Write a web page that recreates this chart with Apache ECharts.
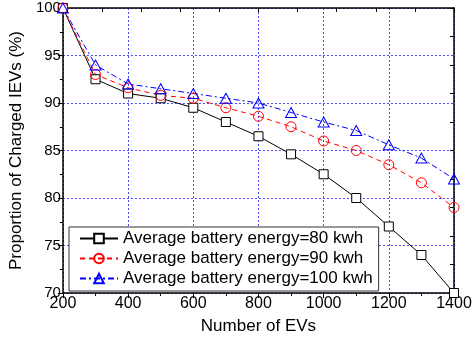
<!DOCTYPE html>
<html><head><meta charset="utf-8">
<script src="https://cdn.jsdelivr.net/npm/echarts@6/dist/echarts.min.js"></script>
<style>html,body{margin:0;padding:0;background:#fff}#c{width:476px;height:340px}</style>
</head><body><div id="c"></div>
<script>
var evCounts = [200, 300, 400, 500, 600, 700, 800, 900, 1000, 1100, 1200, 1300, 1400];
var energy80 = [100, 92.5, 91.0, 90.5, 89.5, 88.0, 86.5, 84.6, 82.5, 80.0, 77.0, 74.0, 70.0];
var energy90 = [100, 93.0, 91.6, 90.8, 90.5, 89.5, 88.6, 87.5, 86.0, 85.0, 83.5, 81.6, 79.0];
var energy100 = [100, 94.0, 92.0, 91.5, 91.0, 90.5, 90.0, 89.0, 88.0, 87.1, 85.6, 84.2, 82.0];
var seriesNames = ['Average battery energy=80 kwh', 'Average battery energy=90 kwh', 'Average battery energy=100 kwh'];

function pairs(ys){ return evCounts.map(function(x,i){ return [x, ys[i]]; }); }
var font = 'Liberation Sans, Arial, sans-serif';
var gridLine = {show:true, lineStyle:{color:'#4a4aff', type:[2,2], width:1}};
var chart = echarts.init(document.getElementById('c'), null, {renderer:'canvas'});
chart.setOption({
  animation:false,
  backgroundColor:'#fff',
  grid:{left:62, right:22, top:8, bottom:44, show:false},
  legend:{
    left:69, top:227, orient:'vertical', itemGap:3, itemWidth:38, itemHeight:12,
    padding:[3,6,4,10], borderColor:'#333', borderWidth:1, backgroundColor:'#fff',
    textStyle:{fontFamily:font, fontSize:17, color:'#000'},
    data:seriesNames.map(function(n){return {name:n};})
  },
  xAxis:[{
    type:'value', min:200, max:1400, interval:200, position:'bottom',
    name:'Number of EVs', nameLocation:'middle', nameGap:25,
    nameTextStyle:{fontFamily:font, fontSize:17, color:'#000'},
    axisLine:{show:true, onZero:false, lineStyle:{color:'#000', width:1.5}},
    axisTick:{show:true, inside:false, length:5, lineStyle:{color:'#000'}},
    minorTick:{show:true, splitNumber:2, length:3, lineStyle:{color:'#000'}},
    axisLabel:{fontFamily:font, fontSize:16, color:'#000', margin:3, formatter:function(v){return String(v);}},
    splitLine:gridLine
  },{
    type:'value', min:0, max:1200, interval:120, position:'top',
    axisLine:{show:true, onZero:false, lineStyle:{color:'#000', width:1.5}},
    axisTick:{show:true, inside:true, length:4, lineStyle:{color:'#000'}},
    axisLabel:{show:false}, splitLine:{show:false}
  }],
  yAxis:[{
    type:'value', min:70, max:100, interval:5, position:'left',
    name:'Proportion of Charged IEVs (%)', nameLocation:'middle', nameGap:35,
    nameTextStyle:{fontFamily:font, fontSize:17, color:'#000'},
    axisLine:{show:true, onZero:false, lineStyle:{color:'#000', width:1.5}},
    axisTick:{show:true, inside:false, length:5, lineStyle:{color:'#000'}},
    minorTick:{show:true, splitNumber:2, length:3, lineStyle:{color:'#000'}},
    axisLabel:{fontFamily:font, fontSize:15, color:'#000', margin:2},
    splitLine:gridLine
  },{
    type:'value', min:70, max:100, interval:3, position:'right',
    axisLine:{show:true, onZero:false, lineStyle:{color:'#000', width:1.5}},
    axisTick:{show:true, inside:true, length:4, lineStyle:{color:'#000'}},
    axisLabel:{show:false}, splitLine:{show:false}
  }],
  series:[{
    name:seriesNames[0], type:'line', data:pairs(energy80),
    symbol:'rect', symbolSize:9, showAllSymbol:true,
    lineStyle:{color:'#000', width:1, type:'solid'},
    itemStyle:{color:'#fff', borderColor:'#000', borderWidth:1}
  },{
    name:seriesNames[1], type:'line', data:pairs(energy90),
    symbol:'circle', symbolSize:10, showAllSymbol:true,
    lineStyle:{color:'#ff0000', width:1, type:[5,4]},
    itemStyle:{color:'rgba(255,255,255,0)', borderColor:'#ff0000', borderWidth:1}
  },{
    name:seriesNames[2], type:'line', data:pairs(energy100),
    symbol:'triangle', symbolSize:[11,10], showAllSymbol:true,
    lineStyle:{color:'#0000ff', width:1, type:[6,3,2,3]},
    itemStyle:{color:'rgba(255,255,255,0)', borderColor:'#0000ff', borderWidth:1}
  }]
});
</script></body></html>
